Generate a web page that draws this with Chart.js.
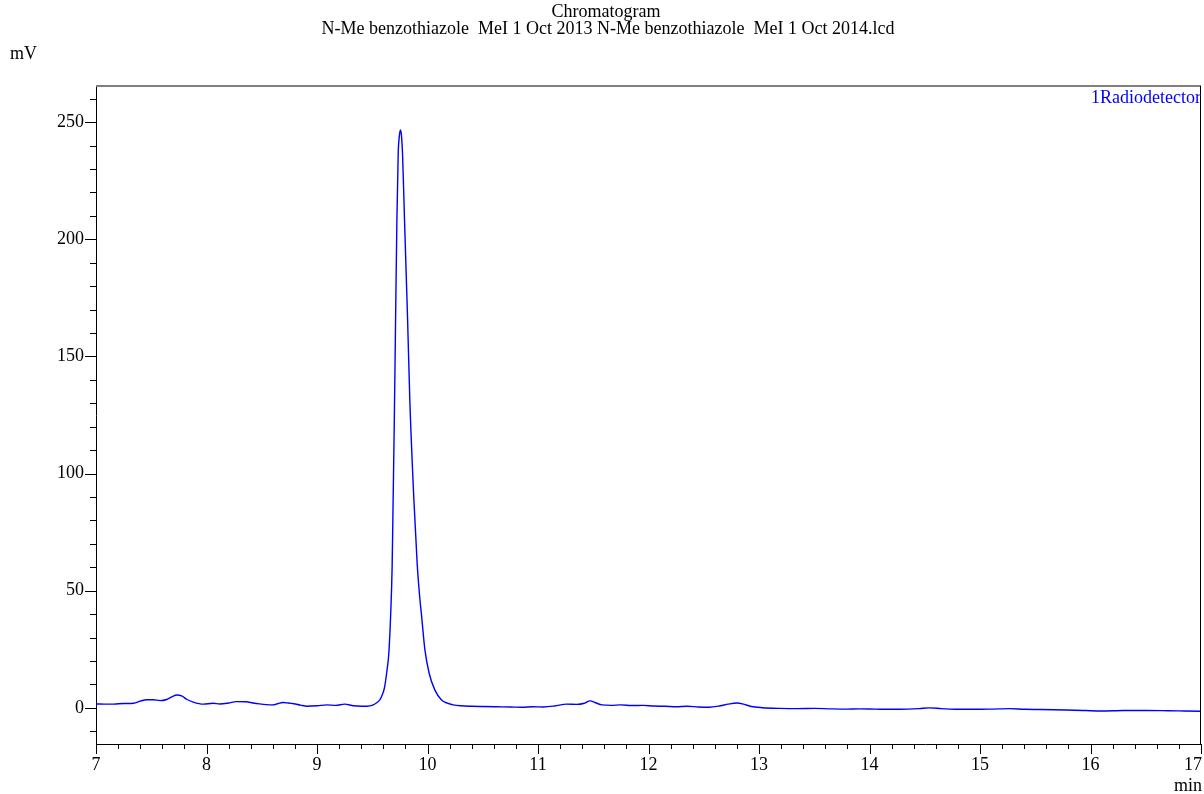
<!DOCTYPE html>
<html>
<head>
<meta charset="utf-8">
<script src="https://cdn.jsdelivr.net/npm/chart.js@4.4.1/dist/chart.umd.min.js"></script>
<style>
  body { margin: 0; background: #ffffff; }
  canvas { display: block; }
</style>
</head>
<body>
<canvas id="chromatogramm" width="1204" height="794"></canvas>
<script>
// Retention time (min) and detector signal (mV)
var zeiten = [
    7.00, 7.08, 7.16, 7.25, 7.34, 7.40, 7.46, 7.52, 7.58, 7.64, 7.69, 7.73, 7.78, 7.82, 7.88, 7.97,
    8.06, 8.12, 8.20, 8.27, 8.36, 8.42, 8.48, 8.54, 8.60, 8.65, 8.69, 8.74, 8.79, 8.85, 8.91,
    9.00, 9.09, 9.17, 9.25, 9.33, 9.40, 9.45, 9.51, 9.54, 9.57, 9.59, 9.61, 9.63, 9.65, 9.666,
    9.68, 9.689, 9.70, 9.711, 9.723, 9.735, 9.745, 9.756, 9.765, 9.774, 9.792, 9.82, 9.84, 9.877,
    9.906, 9.93, 9.946, 9.976, 10.015, 10.066, 10.127, 10.18, 10.232, 10.30, 10.40, 10.50, 10.62, 10.75,
    10.86, 10.95, 11.05, 11.15, 11.26, 11.35, 11.42, 11.47, 11.52, 11.58, 11.66, 11.75, 11.85,
    11.95, 12.05, 12.15, 12.25, 12.35, 12.45, 12.55, 12.65, 12.72, 12.80, 12.86, 12.93, 13.03,
    13.19, 13.35, 13.50, 13.65, 13.79, 13.91, 14.05, 14.20, 14.35, 14.45, 14.54, 14.65, 14.80,
    14.95, 15.10, 15.27, 15.40, 15.55, 15.78, 15.95, 16.10, 16.30, 16.50, 16.70, 16.85, 17.00
];
var signal = [
    1.7, 1.6, 1.6, 1.9, 2.0, 2.9, 3.5, 3.5, 3.1, 3.6, 4.8, 5.5, 5.0, 3.7, 2.5, 1.6,
    2.0, 1.7, 2.1, 2.7, 2.6, 2.1, 1.7, 1.4, 1.3, 1.9, 2.3, 2.1, 1.8, 1.2, 0.7,
    0.9, 1.3, 1.1, 1.6, 0.9, 0.7, 0.7, 1.3, 2.2, 3.5, 5.5, 8.5, 14.8, 23.3, 39,
    60.3, 88.7, 124, 165, 208, 236.6, 244, 246.6, 244, 236.6, 208.2, 165.5, 131.4, 88.7,
    62, 47, 39.5, 25, 14.8, 7.7, 3.4, 2.0, 1.3, 0.9, 0.7, 0.6, 0.5, 0.4,
    0.3, 0.5, 0.4, 0.8, 1.6, 1.5, 2.0, 3.0, 2.2, 1.3, 1.1, 1.3, 1.0,
    1.1, 0.8, 0.7, 0.5, 0.7, 0.4, 0.3, 0.9, 1.6, 2.1, 1.6, 0.6, 0.1,
    -0.2, -0.3, -0.2, -0.4, -0.5, -0.4, -0.5, -0.6, -0.5, -0.3, 0.0, -0.3, -0.6,
    -0.6, -0.5, -0.3, -0.6, -0.7, -0.9, -1.1, -1.3, -1.1, -1.1, -1.2, -1.3, -1.4
];

var xTicks = [7, 8, 9, 10, 11, 12, 13, 14, 15, 16, 17];
var yTicks = [0, 50, 100, 150, 200, 250];

var titelZeilen = ['Chromatogram', 'N-Me benzothiazole  MeI 1 Oct 2013 N-Me benzothiazole  MeI 1 Oct 2014.lcd'];
var kanalName = '1Radiodetector';

var schrift = 'Liberation Serif, Times New Roman, serif';

var punkte = zeiten.map(function(t, i) {
    return { x: t, y: signal[i] };
});

// Rahmen, Striche, x-Beschriftung und Texte
var deko = {
    id: 'deko',
    afterDraw: function(chart) {
        var ctx = chart.ctx;
        var a = chart.chartArea;
        var xs = chart.scales.x;
        var ys = chart.scales.y;
        ctx.save();

        // oberer Rand grau, rechter Rand schwarz
        ctx.strokeStyle = '#808080';
        ctx.lineWidth = 2;
        ctx.beginPath();
        ctx.moveTo(a.left, a.top);
        ctx.lineTo(a.right, a.top);
        ctx.stroke();
        ctx.strokeStyle = '#000000';
        ctx.lineWidth = 1;
        ctx.beginPath();
        ctx.moveTo(Math.round(a.right) - 0.5, a.top);
        ctx.lineTo(Math.round(a.right) - 0.5, a.bottom);
        ctx.stroke();

        // x-Striche alle 0.2 min
        ctx.beginPath();
        for (var i = 0; i <= 50; i++) {
            var px = Math.round(xs.getPixelForValue(7 + i * 0.2)) + 0.5;
            var len = (i % 5 === 0) ? 10 : 5;
            ctx.moveTo(px, a.bottom);
            ctx.lineTo(px, a.bottom + len);
        }
        // y-Striche alle 10 mV
        for (var v = -10; v <= 260; v += 10) {
            var py = Math.round(ys.getPixelForValue(v)) + 0.5;
            var l = (v % 50 === 0) ? 11 : 6;
            ctx.moveTo(a.left, py);
            ctx.lineTo(a.left - l, py);
        }
        ctx.stroke();

        ctx.fillStyle = '#000000';
        ctx.font = '18px ' + schrift;

        // x-Labels, das letzte bündig an den rechten Rand
        ctx.textBaseline = 'middle';
        xTicks.forEach(function(t, k) {
            ctx.textAlign = (k === xTicks.length - 1) ? 'right' : 'center';
            var lx = xs.getPixelForValue(t);
            if (k === xTicks.length - 1) lx = lx + 1;
            ctx.fillText(String(t), lx, a.bottom + 21);
        });

        ctx.textBaseline = 'alphabetic';
        ctx.textAlign = 'center';
        ctx.fillText(titelZeilen[0], 606, 17);
        ctx.fillText(titelZeilen[1], 608, 34);

        ctx.textAlign = 'left';
        ctx.fillText('mV', 10, 59);
        ctx.textAlign = 'right';
        ctx.fillText('min', 1202, 791);

        ctx.fillStyle = '#0000ff';
        ctx.fillText(kanalName, 1201, 103);
        ctx.restore();
    }
};

var ctx = document.getElementById('chromatogramm').getContext('2d');
var chromChart = new Chart(ctx, {
    type: 'line',
    data: {
        datasets: [{
            data: punkte,
            borderColor: '#0000ff',
            borderWidth: 1.4,
            pointRadius: 0,
            fill: false,
            cubicInterpolationMode: 'monotone'
        }]
    },
    options: {
        responsive: false,
        animation: false,
        layout: { padding: { top: 86, left: 0, right: 3, bottom: 0 } },
        plugins: {
            legend: { display: false },
            title: { display: false },
            tooltip: { enabled: false }
        },
        scales: {
            x: {
                type: 'linear',
                min: 7,
                max: 17,
                grid: { display: false },
                border: { display: true, color: '#000000', width: 1 },
                afterBuildTicks: function(s) {
                    s.ticks = xTicks.map(function(v) { return { value: v }; });
                },
                afterFit: function(s) {
                    s.height = 50;
                    s.paddingLeft = 0;
                    s.paddingRight = 0;
                },
                ticks: { display: false }
            },
            y: {
                type: 'linear',
                min: -15.4,
                max: 265.4,
                grid: { display: false },
                border: { display: true, color: '#000000', width: 1 },
                afterBuildTicks: function(s) {
                    s.ticks = yTicks.map(function(v) { return { value: v }; });
                },
                afterFit: function(s) {
                    s.width = 96;
                    s.paddingTop = 0;
                    s.paddingBottom = 0;
                },
                ticks: {
                    padding: 4,
                    color: '#000000',
                    font: { family: schrift, size: 18 }
                }
            }
        }
    },
    plugins: [deko]
});
</script>
</body>
</html>
